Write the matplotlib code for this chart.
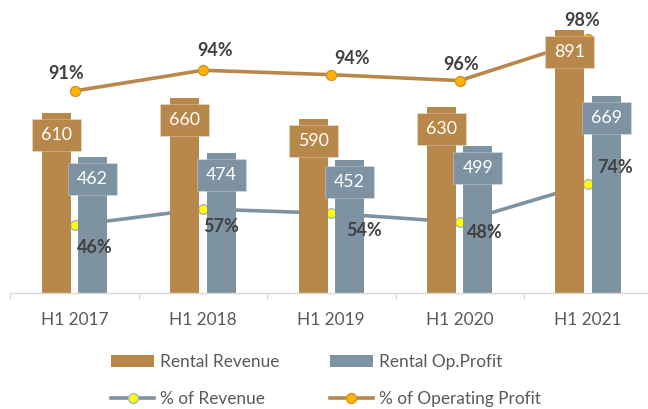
import numpy as np
import matplotlib
matplotlib.use('Agg')
import matplotlib.pyplot as plt
from matplotlib.patches import Rectangle, Patch
from matplotlib.lines import Line2D

# ---------------- data ----------------
periods = ['H1 2017', 'H1 2018', 'H1 2019', 'H1 2020', 'H1 2021']
rental_revenue = [610, 660, 590, 630, 891]
rental_op_profit = [462, 474, 452, 499, 669]
pct_of_revenue = [46, 57, 54, 48, 74]
pct_of_op_profit = [91, 94, 94, 96, 98]

# ---------------- style ----------------
BROWN = '#B8884A'
SLATE = '#7E93A1'
TXT = '#595959'
LBL = '#404040'
plt.rcParams['font.family'] = ['Lato', 'DejaVu Sans']

W, H, DPI = 648, 409, 100
fig = plt.figure(figsize=(W / DPI, H / DPI), dpi=DPI)
ax_left, ax_right, ax_base, ax_h = 10.3, 652.3, 293, 295
ax = fig.add_axes([ax_left / W, (H - ax_base) / H, (ax_right - ax_left) / W, ax_h / H])
ax2 = ax.twinx()
ax.set_zorder(ax2.get_zorder() + 1)
ax.patch.set_visible(False)

x = np.arange(len(periods))
bar_w, off = 0.226, 0.142
ax.bar(x - off, rental_revenue, bar_w, color=BROWN, zorder=2)
ax.bar(x + off, rental_op_profit, bar_w, color=SLATE, zorder=2)
ax.set_xlim(-0.5, len(periods) - 0.5)
ax.set_ylim(0, 1000)
ax2.set_ylim(0, 200)

# stacked line series on the secondary axis
stacked_top = np.array(pct_of_revenue) + np.array(pct_of_op_profit)
ax2.plot(x, pct_of_revenue, color=SLATE, lw=2.6, marker='o', ms=7, mfc='#FFFF00',
         mec='#A7B6C2', mew=1, zorder=1)
ax2.plot(x, stacked_top, color=BROWN, lw=2.6, marker='o', ms=7.2, mfc='#FFB400',
         mec='#CF9430', mew=1, zorder=1)

# value boxes on the bars
px_x = (ax_right - ax_left) / len(periods)
px_y = ax_h / 1000
box_w, box_h, box_gap = 49 / px_x, 32 / px_y, 6 / px_y
for xs, vals, col in [(x - off, rental_revenue, BROWN), (x + off, rental_op_profit, SLATE)]:
    for xi, v in zip(xs, vals):
        top = v - box_gap
        ax.add_patch(Rectangle((xi - box_w / 2, top - box_h), box_w, box_h, facecolor=col,
                               edgecolor=(1, 1, 1, 0.3), lw=0.6, zorder=3))
        ax.text(xi, top - box_h / 2, f'{v}', ha='center', va='center', color='white',
                fontsize=12.8, zorder=4)

# percentage labels (offsets in pixels: dx right, dy down)
op_offsets = [(-8, -17), (12, -20), (21, -16), (1, -16), (-6, -18.5)]
rev_offsets = [(20, 22), (18, 18), (33, 17), (25, 10), (27, -16)]
k = 72 / DPI
for i in range(len(periods)):
    dx, dy = op_offsets[i]
    ax.annotate(f'{pct_of_op_profit[i]}%', xy=(x[i], stacked_top[i]), xycoords=ax2.transData,
                xytext=(dx * k, -dy * k), textcoords='offset points', ha='center', va='center',
                fontsize=13, fontweight='bold', color=LBL, zorder=6)
    dx, dy = rev_offsets[i]
    ax.annotate(f'{pct_of_revenue[i]}%', xy=(x[i], pct_of_revenue[i]), xycoords=ax2.transData,
                xytext=(dx * k, -dy * k), textcoords='offset points', ha='center', va='center',
                fontsize=13, fontweight='bold', color=LBL, zorder=6)

# axes styling
for s in ['top', 'left', 'right']:
    ax.spines[s].set_visible(False)
for s in ax2.spines.values():
    s.set_visible(False)
ax.spines['bottom'].set_color('#D9D9D9')
ax.spines['bottom'].set_linewidth(1)
ax.set_yticks([])
ax2.set_yticks([])
ax.set_xticks(x, periods)
ax.set_xticks(np.arange(-0.5, len(periods), 1), minor=True)
ax.tick_params(axis='x', which='major', length=0, pad=13.5, labelsize=12.4, labelcolor=TXT)
ax.tick_params(axis='x', which='minor', length=4, width=1, color='#D9D9D9', direction='out')

# legend
handles = [
    Patch(facecolor=BROWN, edgecolor='none', label='Rental Revenue'),
    Line2D([], [], color=SLATE, lw=2.6, marker='o', ms=7, mfc='#FFFF00', mec='#A7B6C2',
           mew=1, label='% of Revenue'),
    Patch(facecolor=SLATE, edgecolor='none', label='Rental Op.Profit'),
    Line2D([], [], color=BROWN, lw=2.6, marker='o', ms=7.2, mfc='#FFB400', mec='#CF9430',
           mew=1, label='% of Operating Profit'),
]
fig.legend(handles=handles, ncol=2, loc='center left',
           bbox_to_anchor=(111 / W, 1 - 380.5 / H), frameon=False, fontsize=12.4,
           labelcolor=TXT, handlelength=2.5, handletextpad=0.36, columnspacing=2.9,
           labelspacing=1.2, borderpad=0, borderaxespad=0, numpoints=1)

fig.savefig('out.png', dpi=DPI)
